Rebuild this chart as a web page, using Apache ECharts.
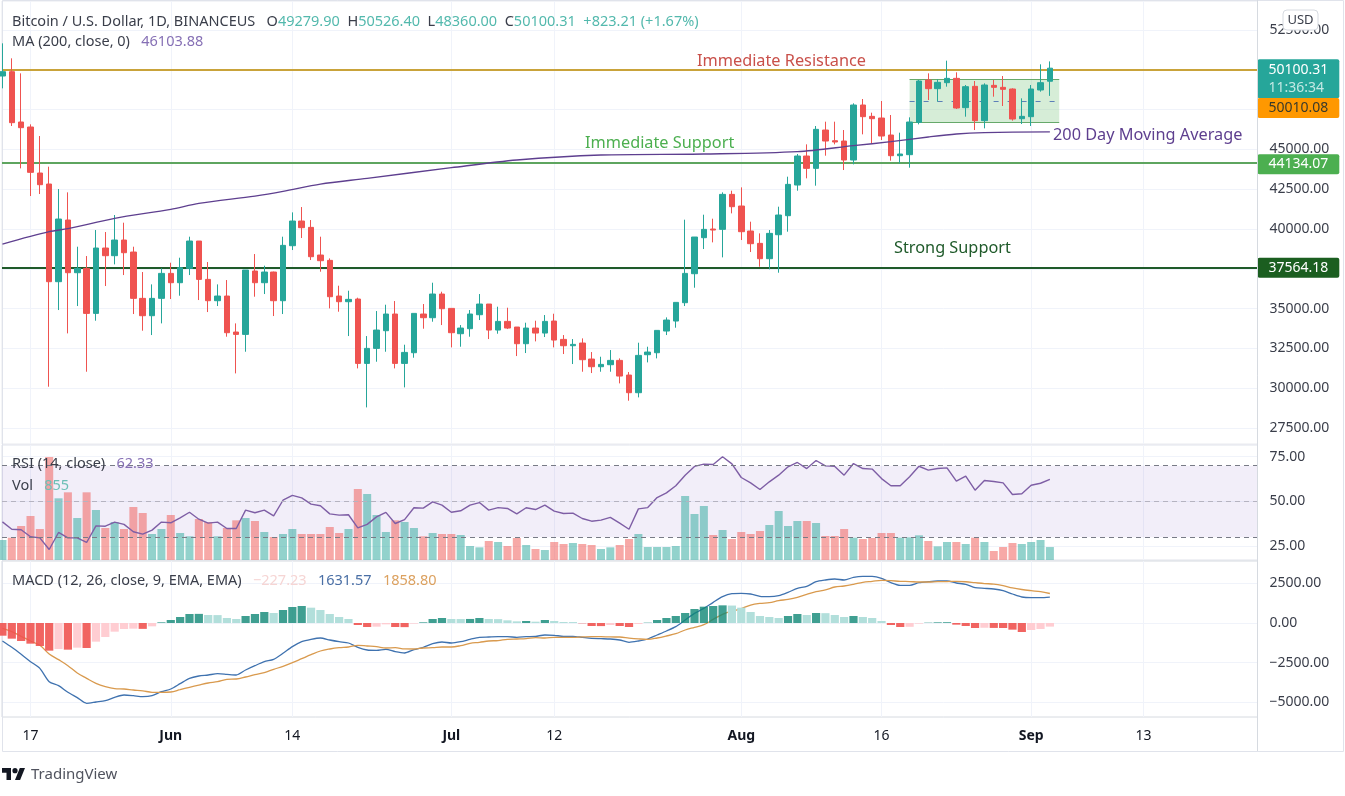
<!DOCTYPE html>
<html>
<head>
<meta charset="utf-8">
<title>BTCUSD</title>
<script src="https://cdn.jsdelivr.net/npm/echarts@6/dist/echarts.min.js"></script>
<style>
  html, body { margin: 0; padding: 0; background: #fff; }
  #app { width: 1345px; height: 796px; }
</style>
</head>
<body>
<div id="app"></div>
<script>
// daily candles, 14 May to 3 Sep 2021
var opens = [
  49609,49881,46719,46405,43515,42824,36689,40563,37254,37526,
  34699,38804,38322,39306,38552,35642,34553,35642,37212,36626,
  37526,39243,36835,35495,35788,33527,33380,37359,36626,37296,
  35495,38950,40500,40102,38364,38029,35788,35432,35600,31558,
  32501,33611,34658,31558,32228,34658,34427,35914,35013,33422,
  33736,34616,35286,33652,34197,33841,32794,33778,33464,34218,
  33066,32668,32836,31831,31349,31475,31747,30825,29716,32103,
  32228,33590,34218,35369,37191,39453,39997,39976,42175,41442,
  39872,39097,38134,39641,40835,42761,44583,43808,46216,45546,
  45525,44332,47787,47075,46970,45902,44604,44667,46698,49357,
  48813,49190,49462,47619,48960,46803,49022,48897,48792,46928,
  47054,48729,49279.9
];
var closes = [
  49881,46677,46363,43557,42782,36689,40625,37254,37526,34699,
  38804,38322,39306,38510,35642,34553,35642,37212,36626,37568,
  39243,36835,35495,35788,33485,33380,37422,36626,37296,35495,
  38971,40500,40081,38259,38008,35746,35432,35579,31558,32501,
  33652,34658,31558,32249,34699,34427,35914,34993,33485,33778,
  34658,35286,33652,34197,33778,32794,33778,33464,34197,33024,
  32668,32752,31789,31349,31496,31747,30763,29716,32061,32270,
  33631,34281,35390,37212,39495,39976,39934,42175,41400,39830,
  39076,38134,39725,40877,42803,44583,43808,46258,45525,45463,
  44332,47787,47054,46928,45839,44604,44709,46719,49295,48813,
  49211,49462,47598,48939,46803,49043,48897,48771,46907,47075,
  48792,49190,50100.31
];
var lows = [
  48834,46468,43808,42070,42196,30093,34909,33443,35160,31035,
  34239,36417,37778,37107,34658,33611,33338,34071,35600,35809,
  37107,35537,34783,35160,33234,30930,32291,35746,35914,34532,
  34658,38678,39432,38050,37317,35013,34804,33275,31244,28794,
  31663,32291,31244,30051,31914,33736,34176,33966,32564,32605,
  33234,34281,33087,33422,33715,32019,32208,32940,33213,32564,
  32145,31517,31035,30951,31035,31035,30302,29213,29423,31621,
  31873,33338,33799,35160,36312,38741,39160,38217,40981,39306,
  38552,37631,37463,37254,39830,42405,43180,42719,44604,45316,
  43704,44060,45944,45379,45588,44290,44122,43850,46572,48101,
  47996,48939,47536,47054,46216,46321,48310,47724,46803,46593,
  46468,48624,48360
];
var highs = [
  51661,50719,49776,46572,45839,43913,42510,42301,38887,38301,
  39934,39809,40877,40395,38887,37296,36521,37526,37882,38196,
  39516,39243,37924,36521,36793,34071,37422,38427,37694,37320,
  39516,41044,41379,40563,39516,38154,36437,36123,35684,33275,
  34846,35244,35474,32731,34699,35286,36626,36060,35013,33966,
  34909,35914,35286,35118,35055,33841,34113,34239,34595,34678,
  33338,33087,33129,32270,31977,32396,31873,31014,32857,32605,
  33631,34448,35390,40584,39495,40898,40646,42301,42405,42615,
  40458,39725,39934,41400,43285,44709,45316,46468,46740,46740,
  46216,47892,48164,47305,48038,47159,46049,47012,49357,49776,
  49399,50572,49839,49043,49295,49148,49357,49609,48834,48206,
  49043,50342,50526.4
];
var volumes = [
  1320,1474,2244,2904,2046,6798,4070,4466,2772,4466,
  3300,2112,2508,2046,3498,3102,1716,2046,2970,1782,
  1562,2706,2508,1562,2112,2618,2772,2574,1848,1518,
  1716,2046,1716,1716,1716,2178,1782,2046,4686,4356,
  2970,1848,2618,2508,2112,1562,1782,1716,1716,1650,
  924,836,1254,1188,924,1452,990,726,660,1188,
  1056,1122,1056,990,726,836,990,1386,1716,858,
  858,858,924,4224,3036,3564,1650,1980,1386,1848,
  1716,1914,2310,3234,2244,2574,2574,2442,1584,1584,
  2046,1474,1386,1452,1782,1782,1474,1496,1628,1254,
  902,1188,1188,1056,1474,1188,594,858,1122,1056,
  1188,1320,855
];
var rsi = [
  38.6,34.5,34.2,30.3,29.7,23.2,32.7,29.7,29.7,27.1,
  36.4,36.2,38.5,37.2,33.1,31.8,34.0,38.5,38.1,40.9,
  44.0,40.1,37.9,38.5,34.9,34.9,45.2,43.7,45.2,42.0,
  50.7,53.4,52.0,48.5,47.6,43.1,42.4,42.6,35.3,37.2,
  41.4,43.9,37.7,39.9,46.5,46.3,49.8,48.0,44.0,44.8,
  48.0,49.4,45.2,46.6,46.1,43.1,46.5,45.5,48.0,44.6,
  43.3,43.5,40.5,39.0,39.6,41.1,37.9,34.5,45.9,46.6,
  52.2,54.8,58.8,64.7,69.6,70.9,70.7,75.0,71.0,63.4,
  60.4,56.7,61.0,64.7,69.4,71.8,68.4,72.9,69.9,69.6,
  64.7,71.2,68.4,68.1,62.8,58.8,58.8,63.8,69.7,67.5,
  68.4,68.8,61.4,64.2,56.3,61.7,61.2,60.4,53.9,54.3,
  59.1,60.2,62.33
];
var macdHist = [
  -800,-987,-1134,-1302,-1449,-1743,-1638,-1680,-1554,-1575,
  -1176,-882,-546,-378,-357,-370,-210,42,189,378,
  567,575,504,498,315,252,441,567,693,630,
  819,1008,1071,966,819,567,378,252,-126,-252,
  -231,-84,-252,-260,-42,42,252,315,252,250,
  255,315,252,245,168,105,126,84,189,126,
  63,60,-21,-189,-195,-126,-189,-252,-63,21,
  189,315,441,630,882,1029,1071,1113,1100,966,
  693,441,378,315,441,567,504,630,620,504,
  378,441,378,315,126,-126,-252,-240,-42,21,
  42,50,-105,-189,-315,-300,-310,-315,-420,-567,
  -441,-378,-227.23
];
var macdLine = [
  -1134,-1533,-1974,-2436,-2856,-3696,-3948,-4368,-4704,-5061,
  -4977,-4893,-4683,-4536,-4578,-4641,-4578,-4326,-4158,-3822,
  -3486,-3339,-3276,-3192,-3234,-3276,-2961,-2688,-2436,-2289,
  -1911,-1491,-1176,-1029,-945,-1071,-1176,-1260,-1533,-1701,
  -1722,-1659,-1806,-1890,-1680,-1533,-1302,-1197,-1260,-1176,
  -1029,-903,-882,-861,-861,-903,-861,-840,-756,-777,
  -840,-840,-903,-966,-987,-1008,-1071,-1218,-1134,-1008,
  -756,-504,-231,189,609,924,1302,1659,1848,1869,
  1827,1680,1659,1722,1932,2184,2310,2604,2709,2772,
  2709,2877,2940,2940,2814,2541,2373,2373,2541,2604,
  2646,2646,2520,2436,2226,2184,2142,2037,1827,1638,
  1596,1596,1631.57
];
var signalLine = [
  -334,-546,-840,-1134,-1407,-1953,-2310,-2688,-3150,-3486,
  -3801,-4011,-4137,-4158,-4221,-4271,-4368,-4368,-4347,-4200,
  -4053,-3914,-3780,-3690,-3549,-3528,-3402,-3255,-3129,-2919,
  -2730,-2499,-2247,-1995,-1764,-1638,-1554,-1512,-1407,-1449,
  -1491,-1575,-1554,-1630,-1638,-1575,-1554,-1512,-1512,-1426,
  -1284,-1218,-1134,-1106,-1029,-1008,-987,-924,-945,-903,
  -903,-900,-880,-860,-860,-880,-882,-950,-1000,-1029,
  -945,-819,-672,-441,-273,-105,231,546,748,903,
  1134,1239,1281,1407,1491,1617,1806,1974,2089,2268,
  2331,2436,2562,2625,2688,2667,2625,2613,2583,2583,
  2604,2610,2625,2600,2541,2484,2452,2352,2210,2110,
  2037,1974,1858.8
];
// 200 day average, read where the line could be read
var maDays = ["2021-05-14","2021-05-19","2021-05-21","2021-05-26","2021-06-01","2021-06-04","2021-06-10","2021-06-13","2021-06-17","2021-06-22","2021-07-01","2021-07-08","2021-07-17","2021-07-28","2021-08-07","2021-08-13","2021-08-17","2021-08-21","2021-08-24","2021-08-27","2021-09-03"];
var maValues = [39055,39830,40018,40667,41233,41610,42070,42363,42824,43180,43850,44332,44646,44709,44855,45232,45483,45777,45965,46049,46103.88];

var priceTicks = [27500,30000,32500,35000,37500,40000,42500,45000,47500,50000,52500];
var rsiTicks = [25,50,75];
var macdTicks = [-5000,-2500,0,2500];
var dateTicks = ["2021-05-17","2021-06-01","2021-06-14","2021-07-01","2021-07-12","2021-08-01","2021-08-16","2021-09-01","2021-09-13"];
var dateLabels = ["17","Jun","14","Jul","12","Aug","16","Sep","13"];

var resistance = 50010.08;
var nearSupport = 44134.07;
var strongSupport = 37564.18;
var rangeTop = 49401;
var rangeMid = 48051;
var rangeBottom = 46701;
var rangeStart = "2021-08-19";
var rangeEnd = "2021-09-04";

var UP = "#26a69a";
var DOWN = "#ef5350";
var FONT = "'Noto Sans', sans-serif";
var DAY = 86400000;

var firstDay = Date.parse("2021-05-14");
function dayOf(d) {
  return (Date.parse(d) - firstDay) / DAY;
}
var days = opens.map(function (v, i) { return i; });
var xMin = -0.047;
var xMax = 134.2;
var dayTicks = dateTicks.map(dayOf);

var candles = days.map(function (t, i) { return [t, opens[i], closes[i], lows[i], highs[i]]; });
var volumeBars = days.map(function (t, i) {
  return {
    value: [t, volumes[i]],
    itemStyle: { color: closes[i] >= opens[i] ? "rgba(38,166,154,0.5)" : "rgba(239,83,80,0.5)" }
  };
});
var histBars = days.map(function (t, i) {
  var v = macdHist[i];
  var rising = i > 0 && v > macdHist[i - 1];
  var color = v >= 0 ? (rising ? "rgba(15,135,118,0.8)" : "#b2dfdb") : (rising ? "#ffcdd2" : "rgba(239,83,80,0.9)");
  return { value: [t, v], itemStyle: { color: color } };
});
function pairs(values) {
  return days.map(function (t, i) { return [t, values[i]]; });
}

function xAxis(gridIndex, withLabels) {
  return {
    type: "value",
    gridIndex: gridIndex,
    min: xMin,
    max: xMax,
    axisLine: { show: false },
    axisTick: { show: false, customValues: dayTicks },
    splitLine: { show: true, lineStyle: { color: "#f0f3fa", width: 1 } },
    axisLabel: {
      show: withLabels,
      margin: 12,
      customValues: dayTicks,
      color: "#131722",
      fontFamily: FONT,
      fontSize: 14,
      formatter: function (value) {
        var label = dateLabels[dayTicks.indexOf(value)];
        return /[a-z]/.test(label) ? "{b|" + label + "}" : label;
      },
      rich: { b: { fontWeight: "bold", fontFamily: FONT, fontSize: 14, color: "#131722" } }
    }
  };
}

function yAxis(gridIndex, min, max, ticks) {
  return {
    type: "value",
    gridIndex: gridIndex,
    position: "right",
    min: min,
    max: max,
    axisLine: { show: false },
    axisTick: { show: false, customValues: ticks },
    splitLine: { show: true, lineStyle: { color: "#f0f3fa", width: 1 } },
    axisLabel: {
      customValues: ticks,
      align: "left",
      margin: 12,
      padding: [2, 0, 0, 0],
      color: "#3a3e4a",
      fontFamily: FONT,
      fontSize: 14,
      formatter: function (v) { return (v < 0 ? "\u2212" : "") + Math.abs(v).toFixed(2); }
    }
  };
}

function priceLabel(color, textColor, offsetY) {
  return {
    show: true,
    position: "end",
    distance: 0,
    offset: [0, offsetY],
    backgroundColor: color,
    borderRadius: 2,
    color: textColor,
    fontFamily: FONT,
    fontSize: 14,
    padding: [3, 11, 3, 11],
    formatter: function (p) { return p.value.toFixed(2); }
  };
}

function legendRich() {
  function st(color) {
    return { color: color, fontFamily: FONT, fontSize: 14.5, fontWeight: "normal" };
  }
  return {
    n: st("#3a3e4a"),
    v: st("#53b9ad"),
    p: st("#8670b5"),
    t: st("#6cbfb6"),
    r: st("#f6d5d4"),
    b: st("#4a6fa5"),
    o: st("#dca15f")
  };
}
function legend(top, text) {
  return { left: 12, top: top, padding: 0, text: text, textStyle: { fontWeight: "normal", rich: legendRich() } };
}

function note(x, y, text, color) {
  return {
    type: "text",
    x: x,
    y: y,
    z: 50,
    style: { text: text, fill: color, font: "16.3px " + FONT, textVerticalAlign: "middle" }
  };
}

var option = {
  animation: false,
  backgroundColor: "#fff",
  title: [
    legend(14, "{n|Bitcoin / U.S. Dollar, 1D, BINANCEUS   O}{v|49279.90}{n|  H}{v|50526.40}{n|  L}{v|48360.00}{n|  C}{v|50100.31  +823.21 (+1.67%)}"),
    legend(34, "{n|MA (200, close, 0)   }{p|46103.88}"),
    legend(456, "{n|RSI (14, close)   }{p|62.33}"),
    legend(478, "{n|Vol   }{t|855}"),
    legend(573, "{n|MACD (12, 26, close, 9, EMA, EMA)   }{r|\u2212227.23   }{b|1631.57   }{o|1858.80}")
  ],
  grid: [
    { left: 2, top: 1, width: 1255.5, height: 443, show: true, borderColor: "#e8eaef", borderWidth: 1 },
    { left: 2, top: 445, width: 1255.5, height: 115, show: true, borderColor: "#e0e3eb", borderWidth: 1 },
    { left: 2, top: 561, width: 1255.5, height: 156, show: true, borderColor: "#d6dae0", borderWidth: 1 }
  ],
  xAxis: [xAxis(0, false), xAxis(1, false), xAxis(2, true)],
  yAxis: [
    yAxis(0, 26495, 54320, priceTicks),
    yAxis(1, 17.32, 81.56, rsiTicks),
    { type: "value", gridIndex: 1, show: false, min: 0, max: 7590, splitLine: { show: false } },
    yAxis(2, -5923, 3907, macdTicks)
  ],
  series: [
    {
      type: "candlestick",
      name: "BTCUSD",
      xAxisIndex: 0,
      yAxisIndex: 0,
      z: 5,
      barWidth: 6,
      data: candles,
      itemStyle: { color: UP, color0: DOWN, borderColor: UP, borderColor0: DOWN, borderWidth: 1 },
      markArea: {
        silent: true,
        itemStyle: { color: "rgba(129,199,132,0.32)" },
        data: [[
          { coord: [dayOf(rangeStart), rangeTop] },
          { coord: [dayOf(rangeEnd), rangeBottom] }
        ]]
      },
      markLine: {
        silent: true,
        symbol: "none",
        data: [
          [
            { coord: [dayOf(rangeStart), rangeTop], lineStyle: { color: "#66a96a", width: 1, type: "solid" }, label: { show: false } },
            { coord: [dayOf(rangeEnd), rangeTop] }
          ],
          [
            { coord: [dayOf(rangeStart), rangeBottom], lineStyle: { color: "#66a96a", width: 1, type: "solid" }, label: { show: false } },
            { coord: [dayOf(rangeEnd), rangeBottom] }
          ],
          [
            { coord: [dayOf(rangeStart), rangeMid], lineStyle: { color: "#5c7fb8", width: 1, type: [5, 9] }, label: { show: false } },
            { coord: [dayOf(rangeEnd), rangeMid] }
          ],
          {
            yAxis: closes[closes.length - 1],
            lineStyle: { color: "rgba(0,0,0,0)", width: 1 },
            label: {
              show: true,
              position: "end",
              distance: 0,
              offset: [0, 10.5],
              backgroundColor: UP,
              borderRadius: 2,
              padding: [2, 11, 1, 11],
              formatter: "{a|50100.31}\n{b|11:36:34}",
              rich: {
                a: { color: "#fff", fontFamily: FONT, fontSize: 14, lineHeight: 18 },
                b: { color: "#c4e8e4", fontFamily: FONT, fontSize: 14, lineHeight: 18 }
              }
            }
          },
          { yAxis: resistance, lineStyle: { color: "#c9a33a", width: 2, type: "solid" }, label: priceLabel("#ff9800", "#3a3a2a", 38.5) },
          { yAxis: nearSupport, lineStyle: { color: "#5ea55f", width: 2, type: "solid" }, label: priceLabel("#4caf50", "#fff", 1) },
          { yAxis: strongSupport, lineStyle: { color: "#1f5a2a", width: 2, type: "solid" }, label: priceLabel("#1b5e20", "#fff", 0) }
        ]
      }
    },
    {
      type: "line",
      name: "MA 200",
      xAxisIndex: 0,
      yAxisIndex: 0,
      z: 6,
      showSymbol: false,
      smooth: 0.3,
      lineStyle: { color: "#5e3f8f", width: 1.3 },
      data: maDays.map(function (d, i) { return [dayOf(d), maValues[i]]; })
    },
    {
      type: "bar",
      name: "Vol",
      xAxisIndex: 1,
      yAxisIndex: 2,
      z: 3,
      barWidth: 8,
      data: volumeBars
    },
    {
      type: "line",
      name: "RSI",
      xAxisIndex: 1,
      yAxisIndex: 1,
      z: 4,
      showSymbol: false,
      lineStyle: { color: "#7e5ea5", width: 1.4 },
      data: pairs(rsi),
      markArea: {
        silent: true,
        itemStyle: { color: "rgba(126,87,194,0.1)" },
        data: [[{ yAxis: 30 }, { yAxis: 70 }]]
      },
      markLine: {
        silent: true,
        symbol: "none",
        label: { show: false },
        data: [
          { yAxis: 70, lineStyle: { color: "#787b86", width: 1, type: [5, 4] } },
          { yAxis: 50, lineStyle: { color: "#b5b3c0", width: 1, type: [5, 4] } },
          { yAxis: 30, lineStyle: { color: "#787b86", width: 1, type: [5, 4] } }
        ]
      }
    },
    {
      type: "bar",
      name: "Histogram",
      xAxisIndex: 2,
      yAxisIndex: 3,
      z: 7,
      barWidth: 8.2,
      data: histBars
    },
    {
      type: "line",
      name: "MACD",
      xAxisIndex: 2,
      yAxisIndex: 3,
      z: 5,
      showSymbol: false,
      smooth: 0.25,
      lineStyle: { color: "#3f72af", width: 1.3 },
      data: pairs(macdLine)
    },
    {
      type: "line",
      name: "Signal",
      xAxisIndex: 2,
      yAxisIndex: 3,
      z: 5,
      showSymbol: false,
      smooth: 0.35,
      lineStyle: { color: "#d99a4e", width: 1.3 },
      data: pairs(signalLine)
    }
  ],
  graphic: [
    note(697, 61, "Immediate Resistance", "#c9504a"),
    note(585, 143, "Immediate Support", "#4caf50"),
    note(894, 248, "Strong Support", "#1f5a2a"),
    note(1053, 135, "200 Day Moving Average", "#5e3f8f"),
    {
      type: "line",
      z: 40,
      shape: { x1: 1257.5, y1: 0, x2: 1257.5, y2: 751 },
      style: { stroke: "#d6dae0", lineWidth: 1 }
    },
    {
      type: "rect",
      z: 1,
      shape: { x: 2.5, y: 0.5, width: 1341, height: 751 },
      style: { fill: "none", stroke: "#e0e3eb", lineWidth: 1 }
    },
    {
      type: "rect",
      z: 60,
      shape: { x: 1283, y: 10, width: 35, height: 20, r: 4 },
      style: { fill: "#fff", stroke: "#d6dae0", lineWidth: 1 }
    },
    {
      type: "text",
      z: 61,
      x: 1300.5,
      y: 20,
      style: { text: "USD", fill: "#3a3e4a", font: "13px " + FONT, textAlign: "center", textVerticalAlign: "middle" }
    },
    {
      type: "polygon",
      z: 30,
      shape: { points: [[2, 768], [11, 768], [11, 780], [6.5, 780], [6.5, 772.7], [2, 772.7]] },
      style: { fill: "#131722" }
    },
    {
      type: "polygon",
      z: 30,
      shape: { points: [[15, 780], [19.8, 768], [25, 768], [20.1, 780]] },
      style: { fill: "#131722" }
    },
    {
      type: "circle",
      z: 30,
      shape: { cx: 15, cy: 770.7, r: 2.6 },
      style: { fill: "#131722" }
    },
    {
      type: "text",
      z: 30,
      x: 31,
      y: 775,
      style: { text: "TradingView", fill: "#50535e", font: "15px " + FONT, textVerticalAlign: "middle" }
    }
  ]
};

var myChart = echarts.init(document.getElementById("app"));
myChart.setOption(option);
</script>
</body>
</html>
